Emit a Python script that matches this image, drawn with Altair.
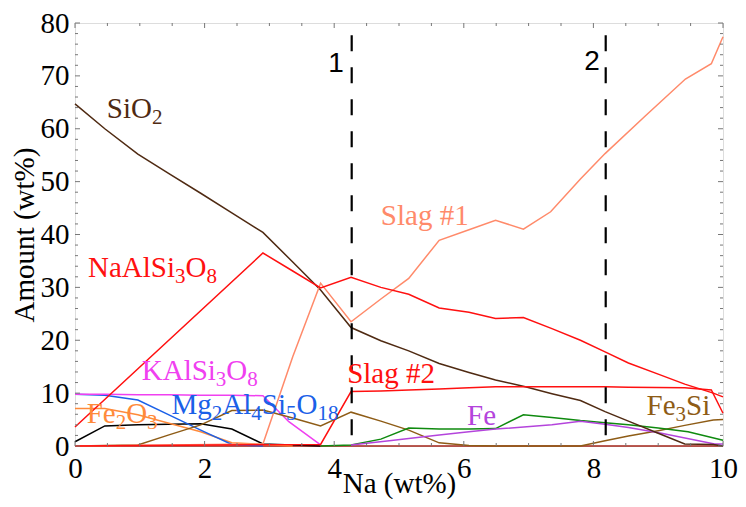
import altair as alt
import pandas as pd

# ---------------- data ----------------
series_names = ["base", "Black", "Fe2O3", "Mg2Al4Si5O18", "KAlSi3O8", "Fe3Si", "Green",
                "Fe", "SiO2", "Slag #1", "Slag #2", "NaAlSi3O8"]
series_colors = ["#a3241a", "#000000", "#ff8a3a", "#1a60e8", "#f040f0", "#8e5c16", "#0f8a0f",
                 "#b444dc", "#4f2a12", "#ff8a6a", "#ff1010", "#ff1010"]

base_x = [0, 10]
base_y = [0, 0]

sio2_x = [0, 0.46, 0.97, 1.45, 1.94, 2.42, 2.9, 3.36, 3.79, 4.26, 4.72, 5.15, 5.62, 6.08, 6.49, 6.95, 7.36, 7.8, 8.18, 8.54, 9.0, 9.41, 9.85, 10]
sio2_y = [64.7, 60.0, 55.2, 51.5, 47.8, 44.1, 40.4, 34.8, 29.5, 22.4, 19.9, 18.0, 15.6, 13.9, 12.5, 11.2, 9.9, 8.6, 6.5, 4.7, 2.4, 0.4, 0.3, 0.0]

naalsi_x = [0, 2.9, 3.36, 3.79, 4.26, 4.72, 5.15, 5.62, 6.08, 6.49, 6.92, 7.36, 7.8, 8.18, 8.54, 9.0, 9.41, 9.85, 10]
naalsi_y = [3.6, 36.5, 33.1, 29.9, 31.9, 30.0, 28.7, 26.1, 25.3, 24.1, 24.3, 22.2, 20.0, 17.8, 15.7, 13.6, 11.7, 10.0, 9.3]

slag1_x = [0, 2.9, 3.36, 3.79, 4.26, 4.72, 5.15, 5.62, 6.08, 6.49, 6.92, 7.34, 7.8, 8.18, 8.8, 9.42, 9.82, 10]
slag1_y = [0, 0.4, 16.9, 30.8, 23.5, 27.8, 31.7, 38.9, 40.9, 42.7, 41.0, 44.3, 50.5, 55.3, 62.4, 69.4, 72.3, 77.4]

slag2_x = [0, 3.79, 4.26, 4.72, 5.15, 5.62, 6.08, 6.49, 7.36, 8.18, 8.54, 9.41, 9.82, 10]
slag2_y = [0, 0.3, 10.3, 10.4, 10.6, 10.8, 11.0, 11.2, 11.2, 11.2, 11.1, 11.0, 10.6, 6.2]

kal_x = [0, 0.46, 0.97, 1.45, 1.94, 2.42, 2.9, 3.3, 3.79]
kal_y = [9.8, 9.8, 9.7, 9.7, 9.6, 9.6, 9.5, 4.6, 0.2]

mg_x = [0, 0.46, 0.97, 1.45, 1.94, 2.42, 2.9]
mg_y = [9.8, 9.6, 8.7, 5.9, 3.0, 0.3, 0.0]

fe2o3_x = [0, 0.46, 0.97, 1.45, 1.94, 2.42, 2.9, 3.36]
fe2o3_y = [7.1, 7.1, 5.9, 4.3, 2.7, 0.6, 0.3, 0.0]

black_x = [0, 0.46, 0.97, 1.45, 1.94, 2.42, 2.9, 3.36, 3.79]
black_y = [0.8, 3.8, 4.0, 4.1, 4.2, 3.2, 0.4, 0.2, 0.0]

fe3si_x = [0, 0.97, 1.45, 1.94, 2.42, 2.9, 3.36, 3.79, 4.26, 4.72, 5.15, 5.62, 6.08, 6.49, 7.36, 7.8, 8.18, 8.54, 9.0, 9.41, 9.85, 10]
fe3si_y = [0, 0.2, 2.1, 4.0, 6.7, 6.8, 5.3, 3.8, 6.4, 4.7, 3.0, 0.6, 0.1, 0.0, 0.0, 0.0, 1.0, 1.9, 2.9, 3.9, 4.9, 5.0]

green_x = [3.79, 4.26, 4.72, 5.15, 5.62, 6.08, 6.49, 6.92, 7.36, 7.8, 8.18, 8.54, 9.0, 9.46, 10]
green_y = [0, 0.2, 1.3, 3.4, 3.2, 3.2, 3.3, 5.9, 5.4, 4.8, 4.4, 4.0, 3.4, 2.7, 1.1]

fe_x = [4.26, 4.85, 5.15, 5.62, 6.08, 6.49, 7.36, 7.8, 8.18, 8.54, 9.05, 9.87, 10]
fe_y = [0.2, 1.0, 1.4, 2.1, 2.7, 3.2, 4.0, 4.7, 4.1, 3.5, 2.4, 0.4, 0.4]

series_xy = {
    "base": (base_x, base_y), "Black": (black_x, black_y), "Fe2O3": (fe2o3_x, fe2o3_y),
    "Mg2Al4Si5O18": (mg_x, mg_y), "KAlSi3O8": (kal_x, kal_y), "Fe3Si": (fe3si_x, fe3si_y),
    "Green": (green_x, green_y), "Fe": (fe_x, fe_y), "SiO2": (sio2_x, sio2_y),
    "Slag #1": (slag1_x, slag1_y), "Slag #2": (slag2_x, slag2_y), "NaAlSi3O8": (naalsi_x, naalsi_y),
}

# labels: text split into (text, is_subscript) pieces
label_parts = [
    [("SiO", 0), ("2", 1)],
    [("NaAlSi", 0), ("3", 1), ("O", 0), ("8", 1)],
    [("KAlSi", 0), ("3", 1), ("O", 0), ("8", 1)],
    [("Mg", 0), ("2", 1), ("Al", 0), ("4", 1), ("Si", 0), ("5", 1), ("O", 0), ("18", 1)],
    [("Fe", 0), ("2", 1), ("O", 0), ("3", 1)],
    [("Slag #2", 0)],
    [("Slag #1", 0)],
    [("Fe", 0)],
    [("Fe", 0), ("3", 1), ("Si", 0)],
]
label_x = [0.49, 0.2, 1.03, 1.49, 0.18, 4.2, 4.72, 6.05, 8.82]
label_y = [62.0, 31.9, 12.5, 6.05, 4.3, 11.85, 41.8, 4.0, 5.86]
label_colors = ["#4f2a12", "#ff1010", "#f040f0", "#1a60e8", "#ff8a3a", "#ff1010", "#ff8a6a", "#b444dc", "#8e5c16"]

# dashed boundaries
boundary_x = [4.27, 8.19]
boundary_top = [77.7, 77.7]
boundary_names = ["1", "2"]
boundary_label_x = [4.03, 7.98]
boundary_label_y = [70.8, 71.1]

# ticks
x_major = [0, 2, 4, 6, 8, 10]
x_minor = [0.5, 1, 1.5, 2.5, 3, 3.5, 4.5, 5, 5.5, 6.5, 7, 7.5, 8.5, 9, 9.5]
y_major = [0, 10, 20, 30, 40, 50, 60, 70, 80]
y_minor = [v for v in range(2, 80, 2) if v % 10 != 0]

# ---------------- build ----------------
W, H = 648, 423
FONT = "Liberation Serif"
FS = 29
SUB_FS = 21
SUB_DY = 6
PX_PER_X = W / 10.0

# Times / Liberation Serif advance widths (em)
ADV = {"N": .722, "a": .444, "A": .722, "l": .278, "S": .556, "i": .278, "O": .722, "K": .722,
       "M": .889, "g": .5, "F": .556, "e": .444, " ": .25, "#": .5}
def text_width(t, size):
    return sum(ADV.get(c, .5) for c in t) * size

rows = []
for name in series_names:
    xs_, ys_ = series_xy[name]
    for i, (a, b) in enumerate(zip(xs_, ys_)):
        rows.append({"series": name, "x": a, "y": b, "i": i})
df = pd.DataFrame(rows)

seg_rows = []
for parts, lx, ly, col in zip(label_parts, label_x, label_y, label_colors):
    cum = 0.0
    for t, sub in parts:
        size = SUB_FS if sub else FS
        seg_rows.append({"t": t, "x": lx + cum / PX_PER_X, "y": ly, "c": col, "sub": sub})
        cum += text_width(t, size)
seg = pd.DataFrame(seg_rows)

xs = alt.Scale(domain=[0, 10], nice=False, zero=False)
ys = alt.Scale(domain=[0, 80], nice=False, zero=False)
XT, YT = "Na (wt%)", "Amount (wt%)"
xaxis = alt.Axis(values=x_major, ticks=False, domain=False, grid=False, labelFont=FONT,
                 labelFontSize=FS, labelColor="black", labelPadding=8, titleFont=FONT,
                 titleFontSize=FS, titleFontWeight="normal", titleColor="black",
                 titleBaseline="alphabetic", titleY=46, labelFlush=False)
yaxis = alt.Axis(values=y_major, ticks=False, domain=False, grid=False, labelFont=FONT,
                 labelFontSize=FS, labelColor="black", labelPadding=6, titleFont=FONT,
                 titleFontSize=FS, titleFontWeight="normal", titleColor="black", titlePadding=1,
                 labelFlush=False)

def X(f):
    return alt.X(f, scale=xs, axis=xaxis, title=XT)
def Y(f):
    return alt.Y(f, scale=ys, axis=yaxis, title=YT)

lines = alt.Chart(df).mark_line(strokeWidth=1.5).encode(
    x=X("x:Q"), y=Y("y:Q"),
    color=alt.Color("series:N", scale=alt.Scale(domain=series_names, range=series_colors), legend=None),
    order="i:Q",
    detail="series:N",
)

bdf = pd.DataFrame({"x": boundary_x, "top": boundary_top, "bottom": [0, 0]})
dashes = alt.Chart(bdf).mark_rule(color="black", strokeWidth=2.2, strokeDash=[16, 16]).encode(
    x=X("x:Q"), y=Y("top:Q"), y2="bottom:Q",
)

bl = pd.DataFrame({"t": boundary_names, "x": boundary_label_x, "y": boundary_label_y})
blabels = alt.Chart(bl).mark_text(font="Liberation Sans", fontSize=28, align="center", baseline="alphabetic",
                                  color="black").encode(x=X("x:Q"), y=Y("y:Q"), text="t:N")

base_txt = alt.Chart(seg).transform_filter("datum.sub == 0").mark_text(
    font=FONT, fontSize=FS, align="left", baseline="alphabetic").encode(
    x=X("x:Q"), y=Y("y:Q"), text="t:N", color=alt.Color("c:N", scale=None))
sub_txt = alt.Chart(seg).transform_filter("datum.sub == 1").mark_text(
    font=FONT, fontSize=SUB_FS, align="left", baseline="alphabetic", dy=SUB_DY).encode(
    x=X("x:Q"), y=Y("y:Q"), text="t:N", color=alt.Color("c:N", scale=None))

TC = "#777777"
def xticks(vals, length, top):
    d = pd.DataFrame({"v": vals})
    if top:
        yy, yy2 = alt.value(0), alt.value(length)
    else:
        yy, yy2 = alt.value(H), alt.value(H - length)
    return alt.Chart(d).mark_rule(color=TC, strokeWidth=1).encode(x=X("v:Q"), y=yy, y2=yy2)

def yticks(vals, length, right):
    d = pd.DataFrame({"v": vals})
    if right:
        xx, xx2 = alt.value(W), alt.value(W - length)
    else:
        xx, xx2 = alt.value(0), alt.value(length)
    return alt.Chart(d).mark_rule(color=TC, strokeWidth=1).encode(y=Y("v:Q"), x=xx, x2=xx2)

ticks = [xticks(x_major, 5, False), xticks(x_major, 5, True), xticks(x_minor, 3, False), xticks(x_minor, 3, True),
         yticks(y_major, 5, False), yticks(y_major, 5, True), yticks(y_minor, 3, False), yticks(y_minor, 3, True)]

chart = alt.layer(lines, *ticks, dashes, blabels, base_txt, sub_txt).properties(
    width=W, height=H,
    autosize=alt.AutoSizeParams(type="none"),
    padding={"left": 67, "top": 15, "right": 15, "bottom": 53},
).configure_view(stroke="#808080", strokeWidth=1).configure(background="white")

chart.save("out.html", embed_options={"renderer": "svg", "actions": False})
